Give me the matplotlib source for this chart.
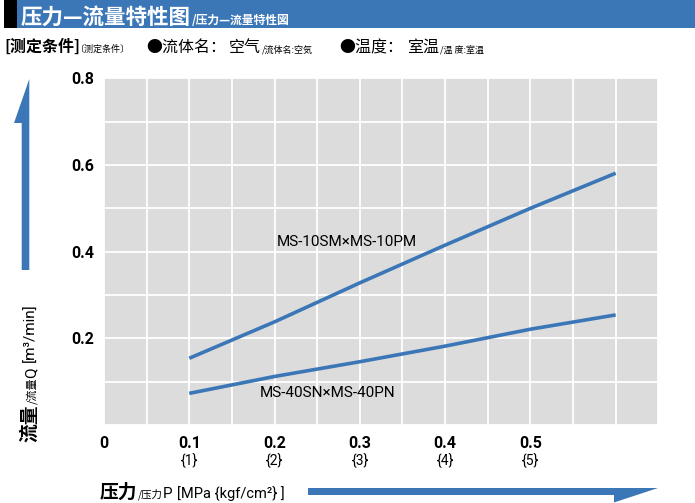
import numpy as np
import matplotlib
matplotlib.use("Agg")
import matplotlib.pyplot as plt
from matplotlib.patches import Polygon, Rectangle
from matplotlib.ticker import MultipleLocator

plt.rcParams['font.family'] = ['Noto Sans CJK SC', 'DejaVu Sans']
NARROW = ['Liberation Sans Narrow', 'Roboto', 'Noto Sans CJK SC', 'DejaVu Sans']

# data
pressure = [0.1, 0.2, 0.3, 0.4, 0.5, 0.6]
flow_10 = [0.154, 0.238, 0.328, 0.415, 0.500, 0.581]
flow_40 = [0.073, 0.112, 0.146, 0.182, 0.221, 0.254]
name_10 = "MS-10SM×MS-10PM"
name_40 = "MS-40SN×MS-40PN"
x_ticks = [0, 0.1, 0.2, 0.3, 0.4, 0.5]
x_labels = ["0", "0.1", "0.2", "0.3", "0.4", "0.5"]
x_kgf = ["{1}", "{2}", "{3}", "{4}", "{5}"]
y_ticks = [0.2, 0.4, 0.6, 0.8]
y_labels = ["0.2", "0.4", "0.6", "0.8"]

BLUE = '#3b77b7'
W, H = 695, 503

fig = plt.figure(figsize=(W / 100, H / 100), dpi=100)
fig.patch.set_facecolor('white')


def fx(px):
    return px / W


def fy(py):
    return 1 - py / H


def chain(pieces, x, y, rot=0, color='black'):
    # pieces: (text, size, weight, family, gap_px)
    r = fig.canvas.get_renderer()
    for s, size, weight, fam, gap in pieces:
        t = fig.text(fx(x), fy(y), s, fontsize=size, fontweight=weight,
                     family=fam, color=color, rotation=rot,
                     rotation_mode='anchor', ha='left', va='baseline')
        bb = t.get_window_extent(r)
        if rot == 0:
            x += bb.width + gap
        else:
            y -= bb.height + gap


# header bar
fig.add_artist(Rectangle((fx(4), fy(28)), fx(13) , 28 / H, transform=fig.transFigure,
                         facecolor='black', edgecolor='none'))
fig.add_artist(Rectangle((fx(17), fy(28)), fx(W - 17), 28 / H, transform=fig.transFigure,
                         facecolor=BLUE, edgecolor='none'))
chain([("压力—流量特性图", 15.5, 'bold', None, 1),
       ("/压力—流量特性図", 8.5, 'bold', None, 0)], 21, 23.5, color='white')

# measuring conditions row
CJK = ['Noto Sans CJK SC', 'DejaVu Sans']
chain([("[测定条件]", 11.5, 'bold', CJK, -4),
       ("〔测定条件〕", 6.5, 'normal', CJK, 16),
       ("●流体名：", 11.5, 'normal', CJK, 3),
       ("空气", 11.5, 'normal', CJK, 1),
       ("/流体名:空気", 6.5, 'normal', CJK, 26),
       ("●温度：", 11.5, 'normal', CJK, 4),
       ("室温", 11.5, 'normal', CJK, 1),
       ("/温 度:室温", 6.5, 'normal', CJK, 0)], 4, 52)

# plot area
ax = fig.add_axes([fx(104), fy(425), fx(658.3 - 104), (425 - 78.3) / H])
ax.set_facecolor('#dcdcdc')
ax.set_xlim(0, 0.65)
ax.set_ylim(0, 0.8)
for s in ax.spines.values():
    s.set_visible(False)
ax.xaxis.set_minor_locator(MultipleLocator(0.05))
ax.yaxis.set_minor_locator(MultipleLocator(0.1))
ax.set_xticks(x_ticks)
ax.set_xticklabels(x_labels)
ax.set_yticks(y_ticks)
ax.set_yticklabels(y_labels)
ax.tick_params(which='both', length=0)
ax.tick_params(axis='x', pad=8)
ax.tick_params(axis='y', pad=7)
for lab in ax.get_xticklabels() + ax.get_yticklabels():
    lab.set_family(NARROW)
    lab.set_fontweight('bold')
    lab.set_fontsize(11.5)
ax.grid(which='both', color='white', linewidth=1.3)
ax.set_axisbelow(True)

ax.plot(pressure, flow_10, color=BLUE, linewidth=2.6, solid_capstyle='butt')
ax.plot(pressure, flow_40, color=BLUE, linewidth=2.6, solid_capstyle='butt')
ax.text(0.285, 0.423, name_10, ha='center', va='center', fontsize=11, family=NARROW)
ax.text(0.262, 0.074, name_40, ha='center', va='center', fontsize=11, family=NARROW)

for xv, lab in zip(x_ticks[1:], x_kgf):
    ax.annotate(lab, xy=(xv, 0), xycoords=('data', 'axes fraction'),
                xytext=(0, -36), textcoords='offset pixels',
                ha='center', va='center', fontsize=10, family=NARROW)

# axis titles
chain([("压力", 13.5, 'bold', CJK, 0),
       ("/压力", 7.5, 'normal', CJK, 0),
       ("P", 11, 'normal', NARROW, 5),
       ("[MPa {kgf/cm²} ]", 10.5, 'normal', NARROW, 0)], 100, 498)
chain([("流量", 13.5, 'bold', CJK, 0),
       ("/流量", 8, 'normal', CJK, 0),
       ("Q", 11, 'normal', NARROW, 5),
       ("[m³/min]", 11, 'normal', NARROW, 0)], 35, 442, rot=90)

# direction arrows
up = [(21.7, 270), (29.3, 270), (29.3, 79), (14, 123), (21.7, 123)]
right = [(308, 488), (658, 488), (614, 502.5), (614, 495), (308, 495)]
for pts in (up, right):
    fig.add_artist(Polygon([(fx(a), fy(b)) for a, b in pts], closed=True,
                           transform=fig.transFigure, facecolor=BLUE, edgecolor='none'))

fig.savefig("out.png", dpi=100)
